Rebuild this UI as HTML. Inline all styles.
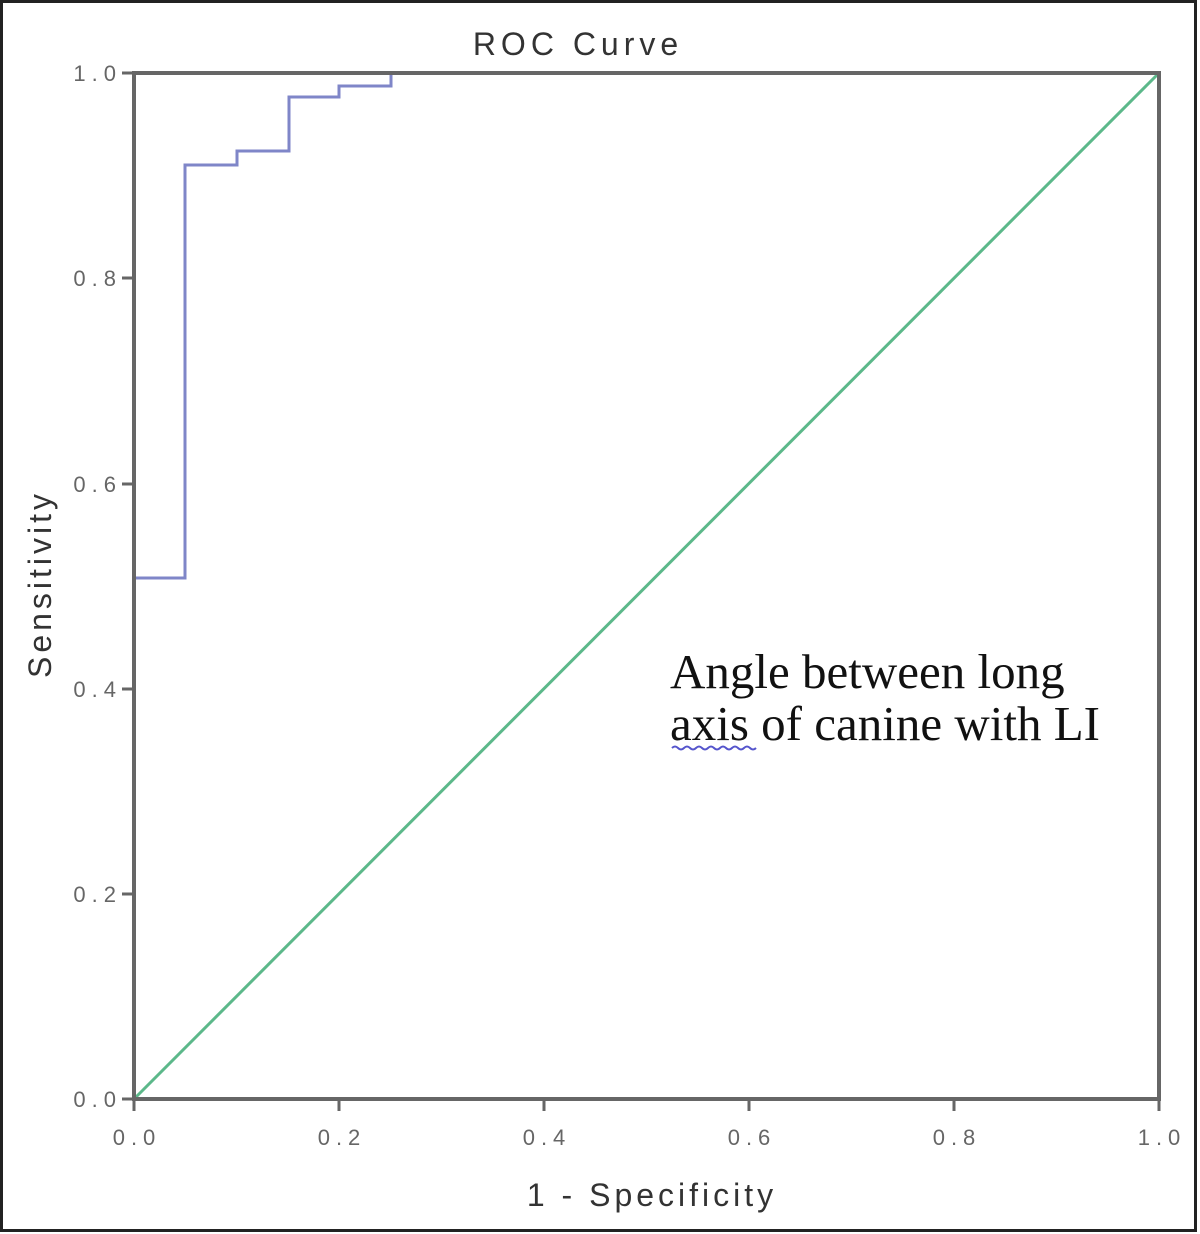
<!DOCTYPE html>
<html><head><meta charset="utf-8"><style>
html,body{margin:0;padding:0;background:#fff}
svg{display:block}
</style></head><body>
<svg width="1200" height="1234" viewBox="0 0 1200 1234" xmlns="http://www.w3.org/2000/svg">
<rect x="0" y="0" width="1200" height="1234" fill="#fff"/>
<rect x="1.5" y="1.5" width="1194" height="1229" fill="none" stroke="#222" stroke-width="3"/>
<text x="578" y="55" font-family="Liberation Sans, sans-serif" font-size="32" letter-spacing="5" fill="#333" text-anchor="middle">ROC Curve</text>
<line x1="134" y1="1099" x2="1159" y2="73" stroke="#5cb88a" stroke-width="3"/>
<polyline fill="none" stroke="#7f86c8" stroke-width="3" points="134,578 185,578 185,165 237,165 237,151 289,151 289,97 339,97 339,86 391,86 391,73 1159,73"/>
<rect x="134" y="73" width="1025" height="1026" fill="none" stroke="#666" stroke-width="4"/>
<g stroke="#666" stroke-width="3">
<line x1="122" y1="73" x2="134" y2="73"/><line x1="122" y1="278" x2="134" y2="278"/><line x1="122" y1="484" x2="134" y2="484"/><line x1="122" y1="689" x2="134" y2="689"/><line x1="122" y1="894" x2="134" y2="894"/><line x1="122" y1="1099" x2="134" y2="1099"/>
<line x1="134" y1="1099" x2="134" y2="1111"/><line x1="339" y1="1099" x2="339" y2="1111"/><line x1="544" y1="1099" x2="544" y2="1111"/><line x1="749" y1="1099" x2="749" y2="1111"/><line x1="954" y1="1099" x2="954" y2="1111"/><line x1="1159" y1="1099" x2="1159" y2="1111"/>
</g>
<g font-family="Liberation Sans, sans-serif" font-size="22" letter-spacing="6" fill="#666" text-anchor="end">
<text x="122" y="81">1.0</text><text x="122" y="286">0.8</text><text x="122" y="492">0.6</text><text x="122" y="697">0.4</text><text x="122" y="902">0.2</text><text x="122" y="1107">0.0</text>
</g>
<g font-family="Liberation Sans, sans-serif" font-size="22" letter-spacing="6" fill="#666" text-anchor="middle">
<text x="137" y="1145">0.0</text><text x="342" y="1145">0.2</text><text x="547" y="1145">0.4</text><text x="752" y="1145">0.6</text><text x="957" y="1145">0.8</text><text x="1162" y="1145">1.0</text>
</g>
<text x="652" y="1206" font-family="Liberation Sans, sans-serif" font-size="32" letter-spacing="4" fill="#333" text-anchor="middle">1 - Specificity</text>
<text transform="translate(51,584) rotate(-90)" font-family="Liberation Sans, sans-serif" font-size="32" letter-spacing="4" fill="#333" text-anchor="middle">Sensitivity</text>
<g font-family="Liberation Serif, serif" font-size="49" fill="#111">
<text x="670" y="688">Angle between long</text>
<text x="670" y="740">axis of canine with LI</text>
</g>
<path d="M672 748 q3 -3 6 0 t6 0 t6 0 t6 0 t6 0 t6 0 t6 0 t6 0 t6 0 t6 0 t6 0 t6 0 t6 0 t6 0" fill="none" stroke="#55c" stroke-width="2"/>
</svg>
</body></html>
